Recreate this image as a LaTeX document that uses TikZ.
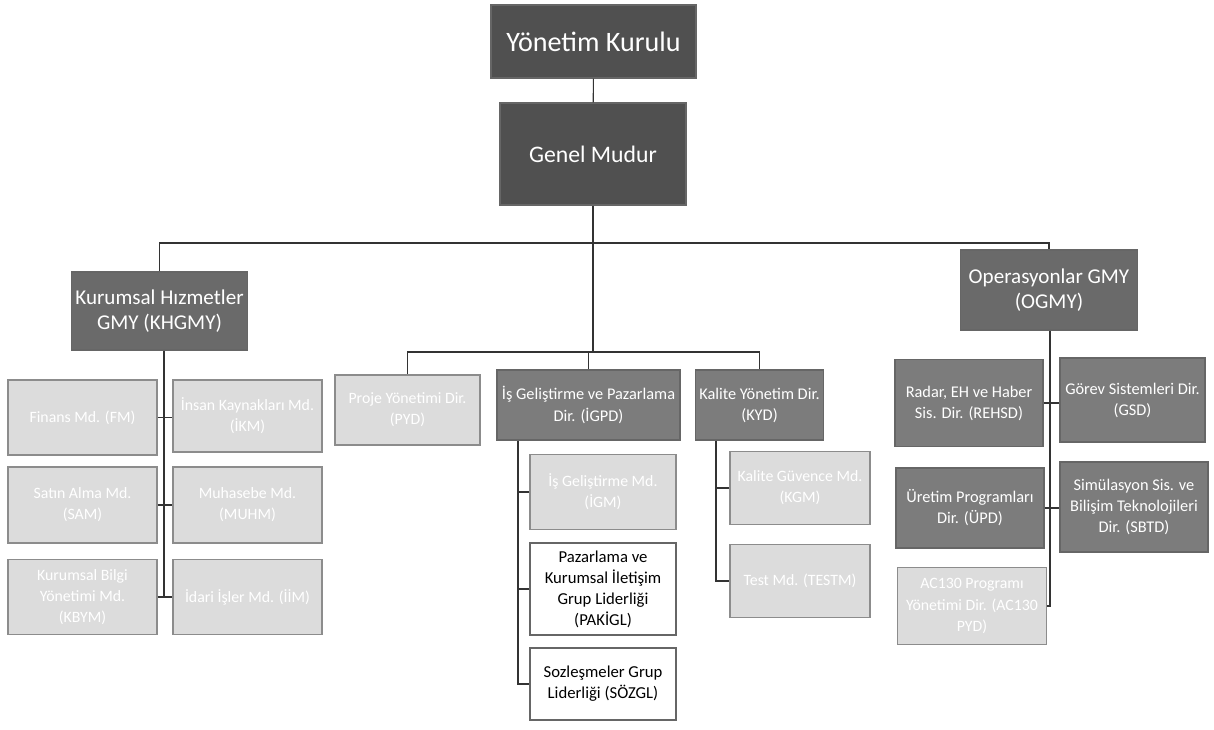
\documentclass[tikz,border=0pt]{standalone}
\usepackage{fontspec}
\setmainfont{Carlito}
\usepackage{xcolor}
\usepackage{tikz}
\usetikzlibrary{positioning}
\definecolor{topgray}{HTML}{505050}
\definecolor{gmygray}{HTML}{6A6A6A}
\definecolor{dirgray}{HTML}{7C7C7C}
\definecolor{mdgray}{HTML}{DCDCDC}
\tikzset{
  box/.style={draw=black!60, line width=0.6pt, align=center, inner sep=2pt},
  sz/.style 2 args={minimum width=#1cm, minimum height=#2cm},
  topbox/.style={box, fill=topgray, text=white, font=\fontsize{16}{19}\selectfont},
  gmybox/.style={box, fill=gmygray, text=white, font=\fontsize{12}{14}\selectfont},
  dirbox/.style={box, fill=dirgray, text=white, font=\fontsize{9.3}{12}\selectfont},
  mdbox/.style={box, fill=mdgray, draw=black!45, text=white, font=\fontsize{9}{12}\selectfont},
  wbox/.style={box, fill=white, text=black, font=\fontsize{9.5}{12}\selectfont},
  link/.style={draw=black!80, line width=0.6pt}
}
\begin{document}
\begin{tikzpicture}[x=0.02cm, y=-0.02cm]
  \useasboundingbox (0,0) rectangle (1214,730);
  \node[topbox, sz={4.1}{1.46}] (yk) at (593.5,41.5) {Yönetim Kurulu};
  \node[topbox, sz={3.72}{2.04}, font=\fontsize{13.5}{16}\selectfont] (gm) at (593,154) {Genel Mudur};
  \node[gmybox, sz={3.5}{1.56}] (kh) at (159.5,311) {Kurumsal Hızmetler\\GMY (KHGMY)};
  \node[gmybox, sz={3.55}{1.6}] (og) at (1049,290) {Operasyonlar GMY\\(OGMY)};

  \node[mdbox, sz={2.98}{1.5}] (fm) at (82.5,417.5) {Finans Md. (FM)};
  \node[mdbox, sz={2.98}{1.44}] (ikm) at (247.5,416) {İnsan Kaynakları Md.\\(İKM)};
  \node[mdbox, sz={2.98}{1.52}] (sam) at (82.5,505) {Satın Alma Md.\\(SAM)};
  \node[mdbox, sz={2.98}{1.52}] (muh) at (247.5,505) {Muhasebe Md.\\(MUHM)};
  \node[mdbox, sz={2.98}{1.5}] (kby) at (82.5,597) {Kurumsal Bilgi\\Yönetimi Md.\\(KBYM)};
  \node[mdbox, sz={2.98}{1.5}] (iim) at (247.5,597) {İdari İşler Md. (İİM)};

  \node[mdbox, sz={2.9}{1.4}] (pyd) at (407.5,410) {Proje Yönetimi Dir.\\(PYD)};
  \node[dirbox, sz={3.66}{1.4}] (igpd) at (588.5,405) {İş Geliştirme ve Pazarlama\\Dir. (İGPD)};
  \node[dirbox, sz={2.5}{1.4}] (kyd) at (759.5,405) {Kalite Yönetim Dir.\\(KYD)};
  \node[mdbox, sz={2.92}{1.5}] (igm) at (603,492) {İş Geliştirme Md.\\(İGM)};
  \node[wbox, sz={2.92}{1.84}] (pak) at (603,589) {Pazarlama ve\\Kurumsal İletişim\\Grup Liderliği\\(PAKİGL)};
  \node[wbox, sz={2.92}{1.44}] (soz) at (603,684) {Sozleşmeler Grup\\Liderliği (SÖZGL)};
  \node[mdbox, sz={2.8}{1.46}] (kgm) at (800,488) {Kalite Güvence Md.\\(KGM)};
  \node[mdbox, sz={2.8}{1.46}] (tst) at (800,581) {Test Md. (TESTM)};

  \node[dirbox, sz={2.96}{1.74}] (rehsd) at (969,403) {Radar, EH ve Haber\\Sis. Dir. (REHSD)};
  \node[dirbox, sz={2.9}{1.68}] (gsd) at (1132.5,400) {Görev Sistemleri Dir.\\(GSD)};
  \node[dirbox, sz={2.96}{1.6}] (upd) at (970,508) {Üretim Programları\\Dir. (ÜPD)};
  \node[dirbox, sz={2.96}{1.8}] (sbtd) at (1134,507) {Simülasyon Sis. ve\\Bilişim Teknolojileri\\Dir. (SBTD)};
  \node[mdbox, sz={2.98}{1.54}] (acp) at (972,606) {AC130 Programı\\Yönetimi Dir. (AC130\\PYD)};

  \coordinate (bar1) at (593,243);
  \coordinate (bar2) at (593,352);
  \coordinate (lt) at (164,598);
  \coordinate (it) at (518,684);
  \coordinate (kt) at (716,581);
  \coordinate (rt) at (1050,606);

  \draw[link] (yk) -- (gm);
  \draw[link] (gm) -- (bar2);
  \draw[link] (kh.north) |- (bar1) -| (og.north);
  \draw[link] (pyd.north) |- (bar2) -| (kyd.north);
  \draw[link] (bar2) -| (igpd.north);

  \draw[link] (kh.south -| lt) -- (lt);
  \draw[link] (fm.east) -- (ikm.west |- fm.east);
  \draw[link] (sam.east) -- (muh.west);
  \draw[link] (kby.east) -- (iim.west);

  \draw[link] (igpd.south -| it) -- (it) -- (soz.west);
  \draw[link] (igm.west) -- (igm.west -| it);
  \draw[link] (pak.west) -- (pak.west -| it);
  \draw[link] (kyd.south -| kt) -- (kt) -- (tst.west);
  \draw[link] (kgm.west) -- (kgm.west -| kt);

  \draw[link] (og.south -| rt) -- (rt) -- (acp.east);
  \draw[link] (rehsd.east) -- (rehsd.east -| gsd.west);
  \draw[link] (upd.east) -- (upd.east -| sbtd.west);
\end{tikzpicture}
\end{document}
